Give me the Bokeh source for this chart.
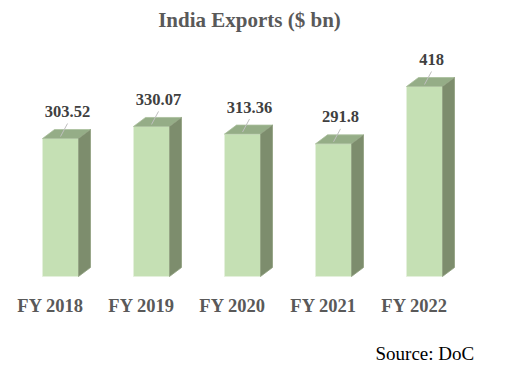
from bokeh.plotting import figure
from bokeh.models import Range1d, Label
from bokeh.embed import file_html
from bokeh.resources import INLINE
from bokeh.core.properties import value

categories = ["FY 2018", "FY 2019", "FY 2020", "FY 2021", "FY 2022"]
exports = [303.52, 330.07, 313.36, 291.8, 418]
value_labels = ["303.52", "330.07", "313.36", "291.8", "418"]

W, H = 500, 368
PX_X = 91.0          # px per category
PX_Y = 190.0 / 418   # px per unit
X0 = 60.0            # canvas px of first category centre
Y0 = H - 276.0       # canvas px (from bottom) of value 0

p = figure(width=W, height=H, output_backend="svg", toolbar_location=None,
           x_range=Range1d(-X0 / PX_X, (W - X0) / PX_X),
           y_range=Range1d(-Y0 / PX_Y, (H - Y0) / PX_Y),
           min_border=0, x_axis_location=None, y_axis_location=None)
p.grid.visible = False
p.outline_line_color = None
p.background_fill_color = "white"
p.border_fill_color = "white"

hw = 18 / PX_X
dx = 12 / PX_X
dy = 9 / PX_Y

xs_idx = list(range(len(categories)))

# front faces
p.quad(left=[i - hw for i in xs_idx], right=[i + hw for i in xs_idx],
       bottom=[0] * len(xs_idx), top=exports,
       fill_color="#C5E0B4", line_color="#E4F0DC", line_width=1)

# top and side faces
top_xs, top_ys, side_xs, side_ys = [], [], [], []
for i, v in zip(xs_idx, exports):
    top_xs.append([i - hw, i + hw, i + hw + dx, i - hw + dx])
    top_ys.append([v, v, v + dy, v + dy])
    side_xs.append([i + hw, i + hw + dx, i + hw + dx, i + hw])
    side_ys.append([0, dy, v + dy, v])
p.patches(top_xs, top_ys, fill_color="#95AD87", line_color="#A9BF9C", line_width=0.8)
p.patches(side_xs, side_ys, fill_color="#7D8D6D", line_color="#8FA07F", line_width=0.8)

# leader lines
p.segment(x0=[i + 7 / PX_X for i in xs_idx], y0=[v + 15 / PX_Y for v in exports],
          x1=[i for i in xs_idx], y1=[v + 2 / PX_Y for v in exports],
          line_color="#BFBFBF", line_width=1)

# value labels
p.text(x=[i + 7 / PX_X for i in xs_idx], y=[v + 27 / PX_Y for v in exports],
       text=value_labels, text_align="center", text_baseline="middle",
       text_font=value("Liberation Serif"), text_font_style="bold",
       text_font_size="16.5px", text_color="#404040")

# category labels
p.text(x=[i - 10 / PX_X for i in xs_idx], y=[-29 / PX_Y] * len(xs_idx),
       text=categories, text_align="center", text_baseline="middle",
       text_font=value("Liberation Serif"), text_font_style="bold",
       text_font_size="18.5px", text_color="#595959")

p.add_layout(Label(x=249, y=H - 19, x_units="screen", y_units="screen",
                   text="India Exports ($ bn)", text_align="center",
                   text_baseline="middle", text_font="Liberation Serif",
                   text_font_style="bold", text_font_size="21px",
                   text_color="#595959"))
p.add_layout(Label(x=375, y=H - 353, x_units="screen", y_units="screen",
                   text="Source: DoC", text_align="left",
                   text_baseline="middle", text_font="Liberation Serif",
                   text_font_size="19px", text_color="black"))

open("out.html", "w").write(file_html(p, INLINE))
